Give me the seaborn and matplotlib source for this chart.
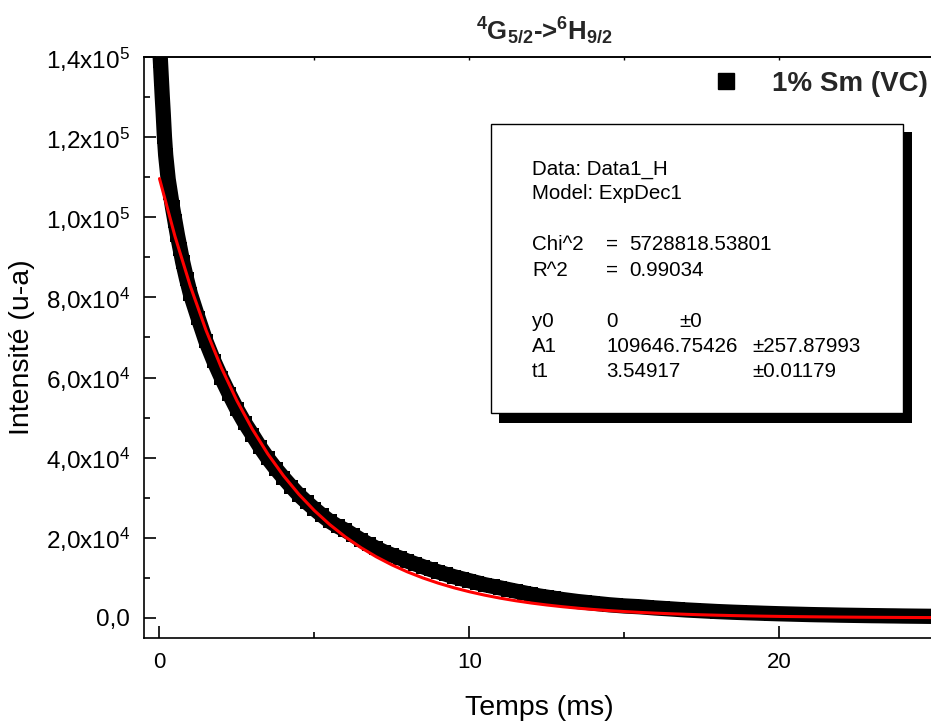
import matplotlib
matplotlib.use("Agg")
import matplotlib.pyplot as plt
from matplotlib.lines import Line2D
from matplotlib.patches import Rectangle
from matplotlib.ticker import FixedLocator, MultipleLocator
import seaborn as sns

sns.set_theme(style="ticks")
plt.rcParams['font.family'] = ['Liberation Sans', 'DejaVu Sans']
plt.rcParams['mathtext.default'] = 'regular'

temps_data = [
    0, 0.03, 0.06, 0.09, 0.12, 0.16, 0.2, 0.28, 0.35, 0.42, 0.5, 0.58, 0.67, 0.75, 0.875, 1.0,
    1.25, 1.5, 1.75, 2.0, 2.25, 2.5, 2.75, 3.0, 3.25, 3.5, 3.75, 4.0, 4.25, 4.5, 4.75, 5.0,
    5.25, 5.5, 5.75, 6.0, 6.25, 6.5, 6.75, 7.0, 7.25, 7.5, 7.75, 8.0, 8.25, 8.5, 8.75, 9.0,
    9.25, 9.5, 9.75, 10.0, 10.25, 10.5, 10.75, 11.0, 11.25, 11.5, 11.75, 12.0, 12.25, 12.5,
    12.75, 13.0, 13.25, 13.5, 13.75, 14.0, 14.25, 14.5, 14.75, 15.0, 15.25, 15.5, 15.75, 16.0,
    16.25, 16.5, 16.75, 17.0, 17.25, 17.5, 17.75, 18.0, 18.25, 18.5, 18.75, 19.0, 19.25, 19.5,
    19.75, 20.0, 20.25, 20.5, 20.75, 21.0, 21.25, 21.5, 21.75, 22.0, 22.25, 22.5, 22.75, 23.0,
    23.25, 23.5, 23.75, 24.0, 24.25, 24.5, 24.75, 25.0,
]
intensite_data = [
    143500, 139000, 134500, 130000, 126000, 120000, 115500, 109500, 106000, 102500, 99000,
    95500, 92000, 88800, 84600, 80800,
    74800, 69000, 64200, 59900, 55900, 52100, 48700, 45700, 42600, 39800, 37300, 35000,
    32800, 30700, 28900, 27200, 25600, 24100, 22900, 21900,
    20700, 19500, 18400, 17400, 16500, 15700, 15000, 14200, 13500, 12800, 12100, 11500,
    10900, 10300, 9800, 9300, 8800, 8300, 7900, 7500, 7100, 6700, 6300, 5900,
    5500, 5200, 4900, 4600, 4350, 4100, 3900, 3700, 3500, 3300, 3150, 3000,
    2900, 2800, 2650, 2500, 2380, 2260, 2130, 2000, 1900, 1800, 1700, 1600,
    1520, 1440, 1370, 1300, 1240, 1170, 1110, 1050, 1000, 950, 900, 850, 810, 780,
    740, 700, 670, 640, 610, 580, 560, 530, 510, 480, 460, 440, 420, 400,
]

# ExpDec1 fit curve, read every 0.5 ms
temps_fit = [
    0, 0.5, 1, 1.5, 2, 2.5, 3, 3.5, 4, 4.5, 5, 5.5, 6, 6.5, 7, 7.5, 8, 8.5, 9, 9.5,
    10, 10.5, 11, 11.5, 12, 12.5, 13, 13.5, 14, 14.5, 15, 15.5, 16, 16.5, 17, 17.5,
    18, 18.5, 19, 19.5, 20, 20.5, 21, 21.5, 22, 22.5, 23, 23.5, 24, 24.5, 25,
]
intensite_fit = [
    109647, 95238, 82722, 71852, 62410, 54208, 47084, 40897, 35522, 30854,
    26799, 23277, 20218, 17561, 15253, 13249, 11507, 9995, 8682, 7541,
    6550, 5689, 4942, 4292, 3728, 3238, 2813, 2443, 2122, 1843,
    1601, 1391, 1208, 1049, 911, 791, 687, 597, 519, 450,
    391, 340, 295, 256, 223, 193, 168, 146, 127, 110, 96,
]

x_ticks = [0, 10, 20]
x_tick_labels = ["0", "10", "20"]
y_ticks = [0, 20000, 40000, 60000, 80000, 100000, 120000, 140000]
y_tick_labels = ["0,0", "2,0x10$^4$", "4,0x10$^4$", "6,0x10$^4$", "8,0x10$^4$",
                 "1,0x10$^5$", "1,2x10$^5$", "1,4x10$^5$"]

W, H = 931, 722
fig = plt.figure(figsize=(W / 100, H / 100), dpi=100)
ax = fig.add_axes([144 / W, 1 - 638 / H, 790 / W, 581 / H])

sns.lineplot(x=temps_data, y=intensite_data, ax=ax, color="black", marker="s",
             markersize=10, markeredgewidth=0, linewidth=11, estimator=None,
             sort=False, legend=False)
sns.lineplot(x=temps_fit, y=intensite_fit, ax=ax, color="#ff0000", linewidth=2.2,
             estimator=None, sort=False, legend=False)

ax.set_xlim(-0.5, 25)
ax.set_ylim(-5000, 140000)
ax.set_xticks(x_ticks, x_tick_labels)
ax.xaxis.set_minor_locator(FixedLocator([5, 15, 25]))
ax.set_yticks(y_ticks, y_tick_labels)
ax.yaxis.set_minor_locator(MultipleLocator(10000))
ax.tick_params(which="major", direction="in", length=8.5, width=1.2,
               pad=10, color="black", labelcolor="black")
ax.tick_params(axis="y", labelsize=17.5)
ax.tick_params(axis="x", labelsize=16)
ax.tick_params(which="minor", direction="in", length=4.5, width=1.2, color="black")
for sp in ax.spines.values():
    sp.set_linewidth(1.2)
    sp.set_color("black")

top = ax.secondary_xaxis("top")
top.set_xticks([0, 5, 10, 15, 20, 25])
top.set_xticklabels([])
top.tick_params(direction="in", length=2.5, width=1.0, color="black")

ax.set_xlabel("Temps (ms)", fontsize=20.5, color="black")
ax.set_ylabel("Intensité (u-a)", fontsize=20.5, color="black")
ax.xaxis.set_label_coords(0.5, -0.098)
ax.yaxis.set_label_coords(-0.138, 0.5)

fig.text(544 / W, 1 - 39 / H, "$^4$G$_{5/2}$->$^6$H$_{9/2}$", ha="center",
         va="baseline", fontsize=18.5, fontweight="bold")

handle = Line2D([], [], marker="s", color="black", linestyle="none", markersize=11)
ax.legend([handle], ["1% Sm (VC)"], loc="center left",
          bbox_to_anchor=(712 / W, 1 - 84 / H), bbox_transform=fig.transFigure,
          frameon=False, handlelength=1.0, handletextpad=1.15, borderpad=0,
          borderaxespad=0, prop={"size": 20, "weight": "bold"})

# fit report box with its drop shadow
fig.add_artist(Rectangle((499 / W, 1 - 423 / H), 413 / W, 291 / H,
                         transform=fig.transFigure, facecolor="black", edgecolor="none"))
fig.add_artist(Rectangle((491 / W, 1 - 413 / H), 412 / W, 289 / H,
                         transform=fig.transFigure, facecolor="white",
                         edgecolor="black", linewidth=1.0))

fs = 14.8
def box_text(x, y, s):
    fig.text(x / W, 1 - y / H, s, fontsize=fs, va="baseline", ha="left", color="black")

box_text(532, 174.3, "Data: Data1_H")
box_text(532, 199.3, "Model: ExpDec1")
box_text(532, 250, "Chi^2")
box_text(606, 250, "=")
box_text(629, 250, "5728818.53801")
box_text(532, 275.7, "R^2")
box_text(606, 275.7, "=")
box_text(629, 275.7, "0.99034")
box_text(532, 326.7, "y0")
box_text(606, 326.7, "0")
box_text(679.3, 326.7, "±0")
box_text(532, 351.7, "A1")
box_text(606, 351.7, "109646.75426")
box_text(752.7, 351.7, "±257.87993")
box_text(532, 376.7, "t1")
box_text(606, 376.7, "3.54917")
box_text(752.7, 376.7, "±0.01179")

fig.savefig("out.png", dpi=100)
